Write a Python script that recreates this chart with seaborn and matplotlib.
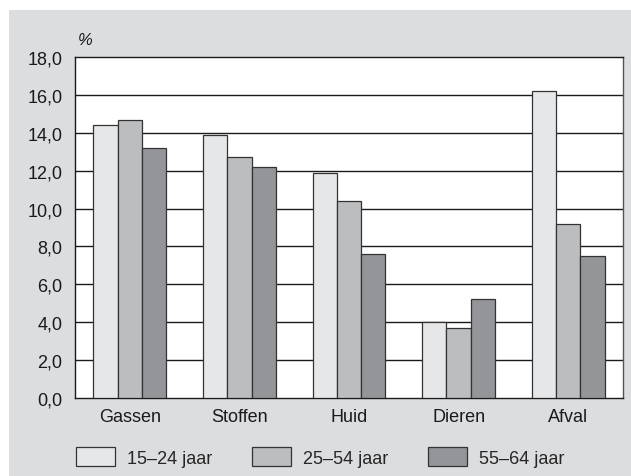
import matplotlib
matplotlib.use("Agg")
import matplotlib.pyplot as plt
from matplotlib.patches import Rectangle, Patch
from matplotlib.ticker import FuncFormatter, MultipleLocator
import seaborn as sns
import pandas as pd

categories = ["Gassen", "Stoffen", "Huid", "Dieren", "Afval"]
groups = ["15\u201324 jaar", "25\u201354 jaar", "55\u201364 jaar"]
v_15_24 = [14.4, 13.9, 11.9, 4.0, 16.2]
v_25_54 = [14.7, 12.7, 10.4, 3.7, 9.2]
v_55_64 = [13.2, 12.2, 7.6, 5.2, 7.5]
colors = ["#e6e7e8", "#bcbdbf", "#939598"]

rows = []
for g, vals in zip(groups, [v_15_24, v_25_54, v_55_64]):
    for c, v in zip(categories, vals):
        rows.append({"cat": c, "grp": g, "val": v})
df = pd.DataFrame(rows)

sns.set_theme(style="white")
plt.rcParams["font.family"] = ["Liberation Sans", "DejaVu Sans"]

FS = 13
fig = plt.figure(figsize=(6.31, 4.77), dpi=100)
fig.patch.set_facecolor("white")
fig.patches.append(Rectangle((9 / 631, 0), 1 - 9 / 631, (477 - 11) / 477,
                             transform=fig.transFigure, facecolor="#dcdddf",
                             edgecolor="none", zorder=-10))

ax = fig.add_axes([75 / 631, (477 - 399) / 477, (623 - 75) / 631, (399 - 58) / 477])
ax.set_facecolor("white")

sns.barplot(data=df, x="cat", y="val", hue="grp", palette=colors, width=0.665,
            gap=0, edgecolor="#333333", linewidth=0.9, saturation=1,
            legend=False, ax=ax, zorder=3)

ax.set_ylim(0, 18)
ax.set_xlim(-0.5, 4.5)
ax.yaxis.set_major_locator(MultipleLocator(2))
ax.yaxis.set_major_formatter(FuncFormatter(lambda v, p: f"{v:.1f}".replace(".", ",")))
for y in range(2, 18, 2):
    ax.axhline(y, color="#1a1a1a", linewidth=1.0, zorder=1)
for s in ax.spines.values():
    s.set_visible(True)
    s.set_color("#1a1a1a")
    s.set_linewidth(1.0)
ax.spines["right"].set_color("#555555")
ax.tick_params(axis="both", length=0, labelsize=FS, colors="#1a1a1a")
ax.tick_params(axis="y", pad=9)
ax.tick_params(axis="x", pad=7)
ax.set_xlabel("")
ax.set_ylabel("")
ax.grid(False)

ax.text(0.006, 1.03, "%", transform=ax.transAxes, fontsize=FS - 1, style="italic",
        color="#1a1a1a", ha="left", va="bottom")

handles = [Patch(facecolor=c, edgecolor="#333333", linewidth=0.9) for c in colors]
fig.legend(handles, groups, loc="center left", ncol=3, frameon=False,
           bbox_to_anchor=(76 / 631, (477 - 458) / 477), fontsize=FS,
           handlelength=2.15, handleheight=1.2, handletextpad=0.67,
           columnspacing=2.2, borderpad=0.0, borderaxespad=0.0)

fig.savefig("out.png", dpi=100, facecolor="white")
